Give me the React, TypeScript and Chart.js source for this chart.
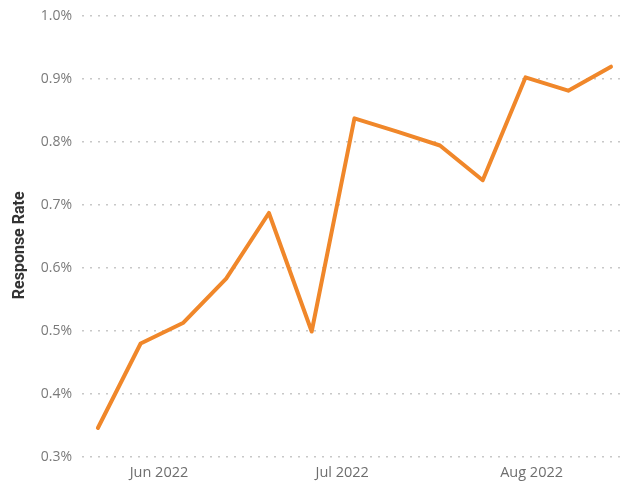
import React, { useEffect, useRef } from "react";
import { Chart, registerables } from "chart.js";

Chart.register(...registerables);

const weekDates = [
  "2022-05-22", "2022-05-29", "2022-06-05", "2022-06-12", "2022-06-19",
  "2022-06-26", "2022-07-03", "2022-07-10", "2022-07-17", "2022-07-24",
  "2022-07-31", "2022-08-07", "2022-08-14",
];
const responseRate = [
  0.346, 0.48, 0.513, 0.583, 0.687, 0.499, 0.837, 0.816, 0.794, 0.739, 0.902, 0.881, 0.919,
];
const tickDates = ["2022-06-01", "2022-07-01", "2022-08-01"];
const tickLabels = ["Jun 2022", "Jul 2022", "Aug 2022"];
const yTitle = "Response Rate";

const DAY = 86400000;
const toDay = (s: string) => {
  const [y, m, d] = s.split("-").map(Number);
  return Date.UTC(y, m - 1, d) / DAY;
};

const yTitlePlugin = {
  id: "yTitle",
  afterDraw(chart: any) {
    const { ctx, chartArea } = chart;
    ctx.save();
    ctx.translate(20, (chartArea.top + chartArea.bottom) / 2 + 9);
    ctx.rotate(-Math.PI / 2);
    ctx.font = "bold 16px Roboto, sans-serif";
    ctx.fillStyle = "#333333";
    ctx.textAlign = "center";
    ctx.textBaseline = "middle";
    ctx.fillText(yTitle, 0, 0);
    ctx.restore();
  },
};

export default function App() {
  const ref = useRef<HTMLCanvasElement | null>(null);

  useEffect(() => {
    document.body.style.margin = "0";
    const ctx = ref.current;
    if (!ctx) return;
    const xs = weekDates.map(toDay);
    const ticksX = tickDates.map(toDay);
    const chart = new Chart(ctx, {
      type: "line",
      data: {
        datasets: [
          {
            label: yTitle,
            data: xs.map((x, i) => ({ x, y: responseRate[i] })),
            borderColor: "#F0872A",
            borderWidth: 4,
            pointRadius: 0,
            tension: 0,
            borderJoinStyle: "round",
            borderCapStyle: "round",
          },
        ],
      },
      options: {
        animation: false,
        responsive: true,
        maintainAspectRatio: false,
        layout: { padding: { top: 0, left: 0, right: 6, bottom: 0 } },
        plugins: { legend: { display: false }, tooltip: { enabled: false } },
        scales: {
          x: {
            type: "linear",
            min: xs[0] - 2.6,
            max: xs[xs.length - 1] + 1.8,
            grid: { display: false, drawTicks: false },
            border: { display: false },
            afterBuildTicks: (scale: any) => {
              scale.ticks = ticksX.map((v) => ({ value: v }));
            },
            afterFit: (scale: any) => {
              scale.height = 25;
            },
            ticks: {
              padding: 7,
              color: "#6e6e6e",
              font: { family: "'Open Sans', sans-serif", size: 14.5 },
              maxRotation: 0,
              autoSkip: false,
              callback: (v: any) => {
                const i = ticksX.indexOf(Number(v));
                return i >= 0 ? tickLabels[i] : "";
              },
            },
          },
          y: {
            min: 0.3,
            max: 1.0,
            afterFit: (scale: any) => {
              scale.width = 82;
            },
            ticks: {
              stepSize: 0.1,
              padding: 10,
              color: "#7a7a7a",
              font: { family: "'Open Sans', sans-serif", size: 14, lineHeight: 0.8 },
              callback: (v: any) => Number(v).toFixed(1) + "%",
            },
            grid: {
              drawTicks: false,
              color: "#c8c8c8",
              lineWidth: 1.5,
            },
            border: { display: false, dash: [2, 6] },
          },
        },
      },
      plugins: [yTitlePlugin],
    } as any);
    return () => chart.destroy();
  }, []);

  return (
    <div style={{ width: 628, height: 482, position: "relative" }}>
      <canvas ref={ref} />
    </div>
  );
}
